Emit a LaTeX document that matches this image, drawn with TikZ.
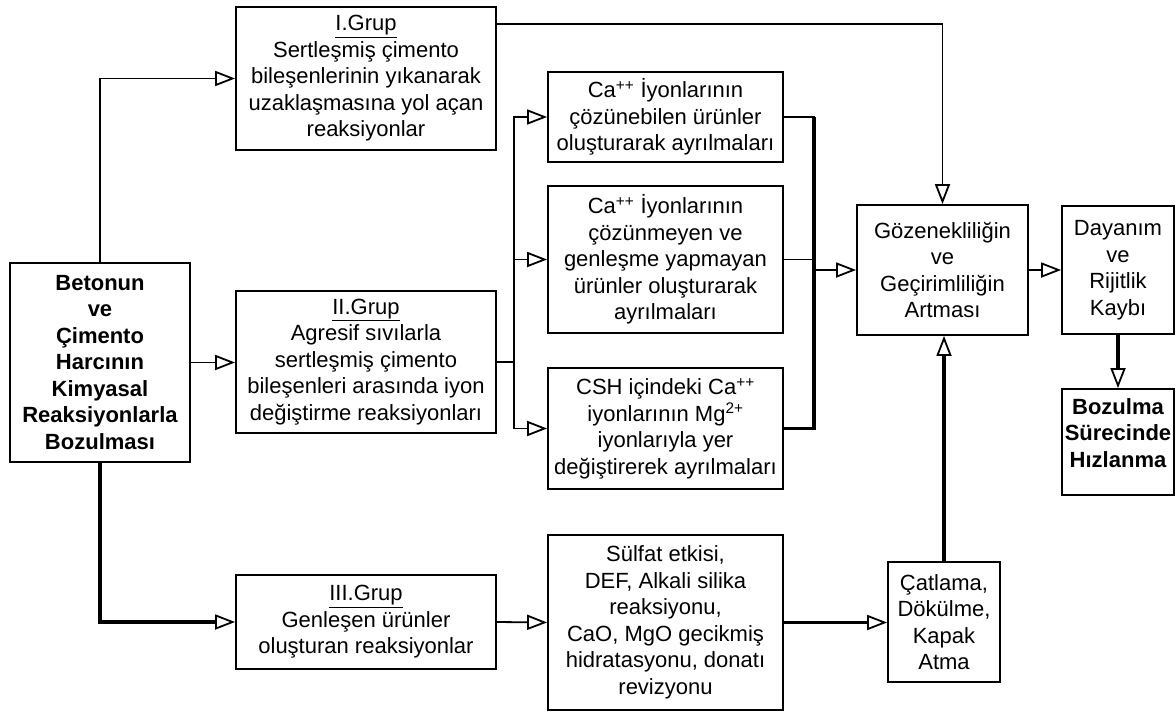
\documentclass[tikz,border=0pt]{standalone}
\usepackage{fontspec}
\setmainfont{Liberation Sans}
\usetikzlibrary{arrows.meta,calc}

\begin{document}
\begin{tikzpicture}[x=1pt,y=-1pt,
  box/.style={draw, line width=1.8pt, inner sep=0pt, align=center,
    font=\fontsize{22}{26.5}\selectfont},
  sz/.style 2 args={minimum width=#1pt, minimum height=#2pt},
  bold/.style={font=\fontsize{22}{26.5}\selectfont\bfseries},
  lbl/.style={inner sep=0pt, align=center},
  ln/.style={line width=1.8pt},
  thk/.style={line width=3.2pt},
  arr/.style={line width=1.8pt,
    -{Triangle[fill=white, length=20pt, width=15pt, line width=1.8pt]}},
  tarr/.style={arr, line width=3.2pt}]

\useasboundingbox (0,0) rectangle (1176,712);

% source box
\node[box, bold, sz={180}{199}] (L) at (100,362.5)
  {Betonun\\ve\\Çimento\\Harcının\\Kimyasal\\Reaksiyonlarla\\Bozulması};

% reaction groups
\node[box, sz={260}{143}] (G1) at (366,78.5)
  {\underline{I.Grup}\\Sertleşmiş çimento\\bileşenlerinin yıkanarak\\uzaklaşmasına yol açan\\reaksiyonlar};
\node[box, sz={260}{142}] (G2) at (366,362)
  {\underline{II.Grup}\\Agresif sıvılarla\\sertleşmiş çimento\\bileşenleri arasında iyon\\değiştirme reaksiyonları};
\node[box, sz={260}{94}] (G3) at (366,622)
  {\underline{III.Grup}\\Genleşen ürünler\\oluşturan reaksiyonlar};

% ion exchange outcomes
\node[box, sz={235}{90}] (Ca1) at (665.5,117)
  {Ca\textsuperscript{++} İyonlarının\\çözünebilen ürünler\\oluşturarak ayrılmaları};
\node[box, sz={235}{147}] (Ca2) at (665.5,259.5)
  {Ca\textsuperscript{++} İyonlarının\\çözünmeyen ve\\genleşme yapmayan\\ürünler oluşturarak\\ayrılmaları};
\node[box, sz={235}{121}] (CSH) at (665.5,428.5)
  {CSH içindeki Ca\textsuperscript{++}\\iyonlarının Mg\textsuperscript{2+}\\iyonlarıyla yer\\değiştirerek ayrılmaları};
\node[box, sz={235}{175}] (S) at (665.5,622.5)
  {Sülfat etkisi,\\DEF, Alkali silika\\reaksiyonu,\\CaO, MgO gecikmiş\\hidratasyonu, donatı\\revizyonu};

% consequences
\node[box, sz={171}{130}] (Gz) at (942.5,270)
  {Gözenekliliğin\\ve\\Geçirimliliğin\\Artması};
\node[box, sz={112}{128}] (D) at (1118,270)
  {Dayanım\\ve\\Rijitlik\\Kaybı};
\node[box, sz={112}{106}] (B) at (1118,442) {};
\node[lbl, bold] (Bt) at (1118,433) {Bozulma\\Sürecinde\\Hızlanma};
\node[box, sz={112}{120}] (C) at (944,622)
  {Çatlama,\\Dökülme,\\Kapak\\Atma};

% connectors from the source box
\draw[arr] (L.north) |- (G1.west);
\draw[arr] (L.east) -- (L.east -| G2.west);
\draw[tarr] (L.south) |- (G3.west);

% group I straight to porosity
\draw[arr] ([yshift=-18pt]G1.north east) -| (Gz.north);

% group II branches
\coordinate (T) at (514,362);
\draw[ln] (G2.east) -- (T);
\draw[arr] (T) |- (Ca1.west);
\draw[arr] (T) |- (Ca2.west);
\draw[arr] (T) |- (CSH.west);

% collector into porosity
\coordinate (R) at (814,270);
\draw[ln] (Ca1.east) -| (R);
\draw[ln] (Ca2.east) -| (R);
\draw[thk] (CSH.east) -| (R);
\draw[thk] (814,117) -- (R);
\draw[arr] (R) -- (Gz.west);

\draw[arr] (Gz.east) -- (Gz.east -| D.west);
\draw[tarr] (D.south) -- (B.north);

% group III chain
\draw[arr] (G3.east) -- (S.west);
\draw[tarr] (S.east) -- (S.east -| C.west);
\draw[tarr] (C.north) -- (C.north |- Gz.south);
\end{tikzpicture}
\end{document}
